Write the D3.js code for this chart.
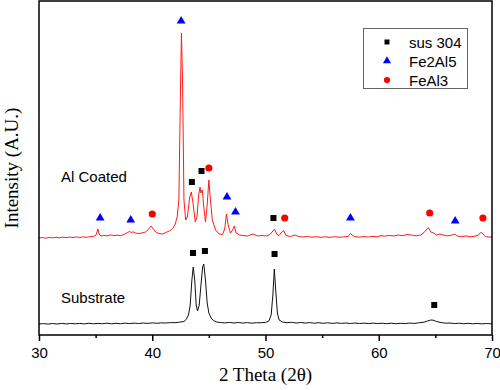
<!DOCTYPE html>
<html><head><meta charset="utf-8">
<script src="https://cdn.jsdelivr.net/npm/d3@7/dist/d3.min.js"></script>
<style>body{margin:0;background:#fff}svg{display:block}</style>
</head><body>
<svg id="c" width="500" height="390"></svg>
<script>
// ---- data (2θ, intensity in arbitrary units) ----
const xTicks = [30, 40, 50, 60, 70];
const coatedTrace = [
[30.0,97],[30.3,97.5],[30.6,96.8],[30.9,97.6],[31.2,97.1],[31.5,97.8],[31.8,97.2],[32.1,97.9],[32.4,97.3],[32.7,98],
[33.0,97.4],[33.3,98.1],[33.6,97.5],[33.9,98.2],[34.2,97.6],[34.5,98.3],[34.8,98.6],[35.0,99.5],[35.1,102],[35.2,106],
[35.3,101],[35.45,99],[35.7,99.5],[36.0,99.2],[36.3,100],[36.6,99.4],[36.9,99.8],[37.2,99.3],[37.5,100.5],[37.8,102.5],
[38.0,103.5],[38.15,102.5],[38.3,103.2],[38.5,102],[38.8,101.5],[39.1,102],[39.4,103],[39.65,105.5],[39.9,109],[40.1,106],
[40.35,102.5],[40.6,101.5],[40.9,101],[41.2,102.5],[41.5,104],[41.8,106.5],[42.0,110],[42.2,118],[42.35,135],[42.5,250],
[42.58,302],[42.68,250],[42.8,135],[42.95,115],[43.1,118],[43.3,137],[43.45,143],[43.6,132],[43.8,113],[43.95,118],
[44.1,140],[44.22,148],[44.3,142],[44.42,145],[44.55,128],[44.7,113],[44.85,130],[45.0,155],[45.1,140],[45.3,115],
[45.6,105],[45.9,101],[46.2,100.5],[46.4,106],[46.55,121],[46.7,110],[46.9,102],[47.1,105],[47.25,109],[47.4,102],
[47.7,100],[48.0,99.5],[48.4,99],[48.9,101],[49.3,99],[49.7,99.5],[50.1,99],[50.4,100.5],[50.65,104],[50.8,106],
[51.0,100.5],[51.2,99.5],[51.45,103],[51.6,104.5],[51.8,99.5],[52.2,98.5],[52.6,100],[52.9,98.5],[53.3,98],[53.7,98.5],
[54.1,97.8],[54.5,98.3],[54.9,97.7],[55.3,98.2],[55.7,97.6],[56.1,98.3],[56.5,97.8],[56.9,98.1],[57.3,98.5],[57.5,101.5],
[57.65,100],[57.9,98.3],[58.3,97.9],[58.7,98.4],[59.1,98],[59.5,98.6],[59.9,98.2],[60.2,99.5],[60.5,98.8],[60.9,99.6],
[61.3,99],[61.7,100],[62.1,99.3],[62.5,100.5],[62.9,100],[63.3,99.2],[63.7,100],[64.0,102.5],[64.25,106],[64.4,107],
[64.6,103],[64.85,102],[65.1,100],[65.4,101],[65.7,100],[66.0,99.2],[66.3,99.5],[66.6,100.5],[66.75,100.8],[66.9,99],
[67.3,98.4],[67.7,99],[68.1,98.2],[68.5,98.8],[68.8,100],[69.0,102.5],[69.15,102],[69.4,98.5],[69.7,98],[70.0,98]
];
const substrateTrace = [
[30.0,11],[30.4,11.4],[30.8,10.9],[31.2,11.5],[31.6,11],[32.0,11.6],[32.4,11.1],[32.8,11.5],[33.2,11.2],[33.6,11.6],
[34.0,11.1],[34.4,11.7],[34.8,11.2],[35.2,11.6],[35.6,11.3],[36.0,11.8],[36.4,11.2],[36.8,11.7],[37.2,11.3],[37.6,11.9],
[38.0,11.4],[38.4,11.9],[38.8,11.5],[39.2,12],[39.6,11.6],[40.0,12.1],[40.4,11.7],[40.8,12.2],[41.2,12],[41.6,12.4],
[42.0,12.3],[42.4,12.8],[42.8,13.5],[43.0,15.5],[43.2,20],[43.35,30],[43.5,55],[43.62,68],[43.75,55],[43.88,30],
[44.0,24],[44.15,30],[44.3,50],[44.45,68],[44.55,71],[44.7,55],[44.85,32],[45.0,22],[45.2,17],[45.4,14.5],
[45.7,13],[46.0,12.5],[46.4,12.1],[46.8,12.6],[47.2,12],[47.6,12.5],[48.0,11.9],[48.4,12.4],[48.8,11.8],[49.2,12.3],
[49.6,12.2],[50.0,12.6],[50.3,14],[50.5,20],[50.65,40],[50.78,66],[50.9,45],[51.05,22],[51.2,15],[51.5,13],
[51.9,12.3],[52.3,12.7],[52.7,12],[53.1,12.5],[53.5,11.9],[53.9,12.4],[54.3,11.8],[54.7,12.3],[55.1,11.7],[55.5,12.2],
[55.9,11.6],[56.3,12.1],[56.7,11.6],[57.1,12],[57.5,11.5],[57.9,12],[58.3,11.5],[58.7,11.9],[59.1,11.4],[59.5,11.9],
[59.9,11.4],[60.3,11.8],[60.7,11.3],[61.1,11.8],[61.5,11.3],[61.9,11.7],[62.3,11.4],[62.7,11.9],[63.1,11.6],[63.5,12.1],
[64.0,12.8],[64.3,14],[64.6,15],[64.8,14.8],[65.1,13.5],[65.5,12.5],[65.9,11.8],[66.3,12],[66.7,11.4],[67.1,11.8],
[67.5,11.3],[67.9,11.7],[68.3,11.2],[68.7,11.6],[69.1,11.1],[69.5,11.5],[70.0,11.2]
];
const sus304Marks = [[43.5,153],[44.35,164],[50.7,117],[43.6,82],[44.65,84],[50.8,81],[64.9,30]];
const fe2al5Marks = [[42.55,314],[35.4,117],[38.1,115],[46.6,138],[47.35,123],[57.5,117],[66.75,114]];
const feal3Marks = [[40.0,121],[45.0,167],[51.7,117],[64.5,122],[69.2,117]];
const legendLabels = ["sus 304", "Fe2Al5", "FeAl3"];
const traceLabels = [["Al Coated", 61, 182], ["Substrate", 61, 303]]; // text, x px, y px

// ---- drawing ----
const svg = d3.select("#c");
const L = 39, R = 492, T = 1, B = 335;
const x = d3.scaleLinear().domain([30, 70]).range([L, R]);
const y = d3.scaleLinear().domain([0, 334]).range([B, T]);

const line = d3.line().x(d => x(d[0])).y(d => y(d[1]));
svg.append("path").datum(substrateTrace).attr("d", line)
  .attr("fill", "none").attr("stroke", "#111").attr("stroke-width", 1);
svg.append("path").datum(coatedTrace).attr("d", line)
  .attr("fill", "none").attr("stroke", "#ff1a1a").attr("stroke-width", 1);

// frame
svg.append("rect").attr("x", L).attr("y", T).attr("width", R - L).attr("height", B - T)
  .attr("fill", "none").attr("stroke", "#000").attr("stroke-width", 1.5);

// x axis
const ax = svg.append("g").attr("transform", `translate(0,${B})`)
  .call(d3.axisBottom(x).tickValues(xTicks).tickSize(6).tickFormat(d3.format("d")));
ax.select(".domain").remove();
ax.selectAll("line").attr("stroke", "#000").attr("stroke-width", 1.5);
ax.selectAll("text").attr("font-family", "Liberation Sans, Arial, sans-serif")
  .attr("font-size", 15).attr("fill", "#000").attr("dy", "0.95em");
const axm = svg.append("g").attr("transform", `translate(0,${B})`)
  .call(d3.axisBottom(x).tickValues([35, 45, 55, 65]).tickSize(3).tickFormat(""));
axm.select(".domain").remove();
axm.selectAll("line").attr("stroke", "#000").attr("stroke-width", 1.5);

// axis titles
svg.append("text").attr("x", (L + R) / 2).attr("y", 381).attr("text-anchor", "middle")
  .attr("font-family", "Liberation Serif, Times New Roman, serif").attr("font-size", 19)
  .text("2 Theta (2θ)");
svg.append("text").attr("transform", `translate(18,${(T + B) / 2}) rotate(-90)`)
  .attr("text-anchor", "middle")
  .attr("font-family", "Liberation Serif, Times New Roman, serif").attr("font-size", 19)
  .text("Intensity (A.U.)");

// trace labels
svg.selectAll("text.tl").data(traceLabels).join("text").attr("class", "tl")
  .attr("x", d => d[1]).attr("y", d => d[2])
  .attr("font-family", "Liberation Sans, Arial, sans-serif").attr("font-size", 15)
  .text(d => d[0]);

// markers
const sq = d3.symbol().type(d3.symbolSquare).size(36);
const tri = d3.symbol().type(d3.symbolTriangle).size(34);
const cir = d3.symbol().type(d3.symbolCircle).size(40);
svg.selectAll("path.sq").data(sus304Marks).join("path").attr("class", "sq")
  .attr("d", sq).attr("transform", d => `translate(${x(d[0])},${y(d[1])})`).attr("fill", "#000");
svg.selectAll("path.tri").data(fe2al5Marks).join("path").attr("class", "tri")
  .attr("d", tri).attr("transform", d => `translate(${x(d[0])},${y(d[1])})`).attr("fill", "#0000ff");
svg.selectAll("path.cir").data(feal3Marks).join("path").attr("class", "cir")
  .attr("d", cir).attr("transform", d => `translate(${x(d[0])},${y(d[1])})`).attr("fill", "#ff0000");

// legend
const lg = svg.append("g");
lg.append("rect").attr("x", 363.5).attr("y", 28.5).attr("width", 104).attr("height", 60)
  .attr("fill", "#fff").attr("stroke", "#666").attr("stroke-width", 1);
const legSyms = [
  [d3.symbol().type(d3.symbolSquare).size(25), "#000"],
  [d3.symbol().type(d3.symbolTriangle).size(28), "#0000ff"],
  [d3.symbol().type(d3.symbolCircle).size(30), "#ff0000"]
];
legendLabels.forEach((t, i) => {
  const yy = 42 + i * 19;
  lg.append("path").attr("d", legSyms[i][0]).attr("fill", legSyms[i][1])
    .attr("transform", `translate(387,${yy})`);
  lg.append("text").attr("x", 409).attr("y", yy + 5.5)
    .attr("font-family", "Liberation Sans, Arial, sans-serif").attr("font-size", 15).text(t);
});
</script>
</body></html>
